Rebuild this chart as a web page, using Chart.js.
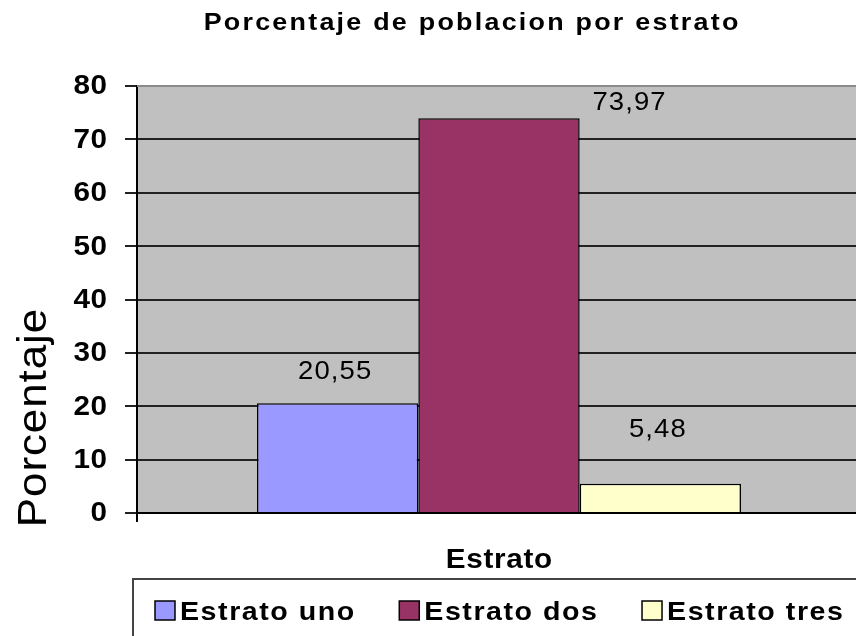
<!DOCTYPE html>
<html>
<head>
<meta charset="utf-8">
<script src="https://cdn.jsdelivr.net/npm/chart.js@4.4.1/dist/chart.umd.min.js"></script>
<style>
  html, body { margin: 0; padding: 0; background: #fff; overflow: hidden; }
  canvas { display: block; }
</style>
</head>
<body>
<canvas id="chart" width="862" height="636"></canvas>
<script>
  // datos
  var categorias = ["Estrato"];
  var series = ["Estrato uno", "Estrato dos", "Estrato tres"];
  var porcentajes = [20.55, 73.97, 5.48];
  var colores = ["#9999FF", "#993366", "#FFFFCC"];
  var ticksY = [0, 10, 20, 30, 40, 50, 60, 70, 80];

  var FONT = "'Liberation Sans', Arial, sans-serif";

  // etiquetas de datos (Excel las pone algo desplazadas)
  var desplaz = [[-3, -31], [130, -15], [-3, -54]];

  // texto algo ensanchado, como en el grafico original
  function texto(ctx, s, x, y, font, sx, ls, align, base) {
    ctx.save();
    ctx.font = font;
    ctx.letterSpacing = ls + 'px';
    ctx.textAlign = 'left';
    ctx.textBaseline = base || 'alphabetic';
    var w = (ctx.measureText(s).width - ls) * sx;
    if (align === 'center') x -= w / 2;
    else if (align === 'right') x -= w;
    ctx.translate(x, y);
    ctx.scale(sx, 1);
    ctx.fillText(s, 0, 0);
    ctx.restore();
    return w;
  }

  var extras = {
    id: 'extras',
    beforeDraw: function(chart) {
      var ctx = chart.ctx, a = chart.chartArea;
      ctx.save();
      ctx.fillStyle = '#C0C0C0';
      ctx.fillRect(a.left, a.top, a.right - a.left, a.bottom - a.top);
      ctx.restore();
    },
    afterDatasetsDraw: function(chart) {
      var ctx = chart.ctx, a = chart.chartArea, sy = chart.scales.y;
      ctx.save();
      // borde superior del area de trazado
      ctx.strokeStyle = '#8a8a8a';
      ctx.lineWidth = 2;
      ctx.beginPath();
      ctx.moveTo(a.left, a.top);
      ctx.lineTo(a.right, a.top);
      ctx.stroke();

      ctx.fillStyle = '#000';

      // etiquetas del eje y
      ticksY.forEach(function(v) {
        texto(ctx, String(v), sy.right - 30, sy.getPixelForValue(v) + 1, 'bold 27px ' + FONT, 1.1, 0.5, 'right', 'middle');
      });

      // valores sobre las barras
      chart.data.datasets.forEach(function(ds, i) {
        var el = chart.getDatasetMeta(i).data[0];
        var txt = ds.data[0].toFixed(2).replace('.', ',');
        texto(ctx, txt, el.x + desplaz[i][0], el.y + desplaz[i][1], '25px ' + FONT, 1.1, 1, 'center', 'middle');
      });

      // titulo
      texto(ctx, 'Porcentaje de poblacion por estrato', 471, 30, 'bold 24px ' + FONT, 1.12, 2, 'center');

      // titulo eje x
      texto(ctx, categorias[0], (a.left + a.right) / 2, 568, 'bold 27px ' + FONT, 1.1, 0.6, 'center');

      // titulo eje y
      ctx.save();
      ctx.translate(46, 418);
      ctx.rotate(-Math.PI / 2);
      texto(ctx, 'Porcentaje', 0, 0, '40px ' + FONT, 1.1, 0.8, 'center');
      ctx.restore();

      // leyenda con recuadro
      ctx.strokeStyle = '#444';
      ctx.lineWidth = 2;
      ctx.strokeRect(133, 579, 760, 100);
      var x = 155;
      chart.data.datasets.forEach(function(ds) {
        ctx.fillStyle = ds.backgroundColor;
        ctx.fillRect(x, 601, 20, 19);
        ctx.strokeStyle = '#000';
        ctx.lineWidth = 1.5;
        ctx.strokeRect(x, 601, 20, 19);
        ctx.fillStyle = '#000';
        var w = texto(ctx, ds.label, x + 25, 620, 'bold 26px ' + FONT, 1.1, 1.4, 'left');
        x += 25 + w + 45;
      });
      ctx.restore();
    }
  };

  var chart = new Chart(document.getElementById('chart'), {
    type: 'bar',
    data: {
      labels: categorias,
      datasets: series.map(function(s, i) {
        return {
          label: s,
          data: [porcentajes[i]],
          backgroundColor: colores[i],
          borderColor: '#000',
          borderWidth: 1.5,
          categoryPercentage: 0.6685,
          barPercentage: 1
        };
      })
    },
    options: {
      responsive: false,
      animation: false,
      devicePixelRatio: 1,
      layout: { padding: { top: 86, bottom: 123, left: 0, right: 1 } },
      plugins: {
        legend: { display: false },
        title: { display: false },
        tooltip: { enabled: false }
      },
      scales: {
        x: {
          ticks: { display: false },
          grid: { drawOnChartArea: false, color: '#000', lineWidth: 2, tickLength: 9, offset: true },
          border: { color: '#000', width: 2 },
          afterFit: function(s) { s.height = 0; }
        },
        y: {
          min: 0,
          max: 80,
          afterBuildTicks: function(s) { s.ticks = ticksY.map(function(v) { return { value: v }; }); },
          ticks: { display: false },
          grid: { color: '#222', lineWidth: 2, tickLength: 12 },
          border: { color: '#000', width: 2 },
          afterFit: function(s) { s.width = 137; }
        }
      }
    },
    plugins: [extras]
  });
</script>
</body>
</html>
